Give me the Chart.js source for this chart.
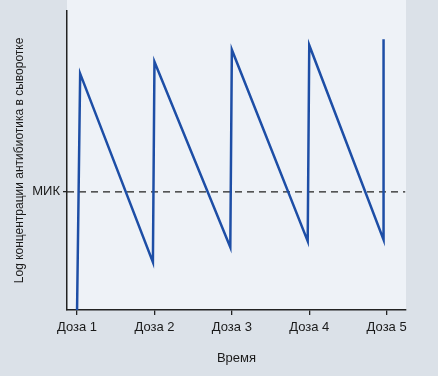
<!DOCTYPE html>
<html lang="ru">
<head>
<meta charset="UTF-8">
<title>Концентрация антибиотика</title>
<script src="https://cdn.jsdelivr.net/npm/chart.js"></script>
<style>
    html, body {
        margin: 0;
        padding: 0;
        background-color: #dbe1e8;
    }
    .wrap {
        width: 438px;
        height: 376px;
    }
</style>
</head>
<body>
<div class="wrap"><canvas id="doseChart" width="438" height="376"></canvas></div>
<script>
    // Данные (ось X — номер дозы, ось Y — условный log концентрации 0..100)
    const doseLabels = ['Доза 1', 'Доза 2', 'Доза 3', 'Доза 4', 'Доза 5'];
    const doseTimes = [1, 1.04, 1.98, 2.0, 2.98, 3.0, 3.98, 4.0, 4.96, 4.96];
    const logConc = [0, 79, 16, 83, 21, 87, 23, 88.5, 23.5, 90.5];
    const micLevel = 39.5;
    const micLabel = 'МИК';
    const xMin = 0.87, xMax = 5.25;

    const concPoints = doseTimes.map((t, i) => ({ x: t, y: logConc[i] }));

    const font = "'Liberation Sans Narrow', 'Arial Narrow', 'Liberation Sans', sans-serif";

    // фон области графика
    const plotBg = {
        id: 'plotBg',
        beforeDraw(chart) {
            const a = chart.chartArea;
            const c = chart.ctx;
            c.save();
            c.fillStyle = '#eef2f7';
            c.fillRect(a.left, 0, a.right - a.left, a.bottom);
            c.restore();
        }
    };

    new Chart(document.getElementById('doseChart'), {
        type: 'scatter',
        data: {
            datasets: [{
                label: 'Концентрация',
                data: concPoints,
                showLine: true,
                borderColor: '#1d4ea6',
                borderWidth: 2.5,
                pointRadius: 0,
                tension: 0
            }, {
                label: 'МИК',
                data: [{ x: xMin, y: micLevel }, { x: xMax - 0.01, y: micLevel }],
                showLine: true,
                borderColor: '#222',
                borderWidth: 1.3,
                borderDash: [7, 5],
                pointRadius: 0
            }]
        },
        options: {
            responsive: false,
            animation: false,
            layout: { padding: { top: 9, right: 32, left: 0, bottom: 0 } },
            plugins: {
                legend: { display: false },
                tooltip: { enabled: false }
            },
            scales: {
                x: {
                    type: 'linear',
                    min: xMin,
                    max: xMax,
                    afterBuildTicks: s => { s.ticks = doseLabels.map((_, i) => ({ value: i + 1 })); },
                    afterFit: s => { s.height = 66; },
                    ticks: {
                        color: '#1a1a1a',
                        font: { family: font, size: 13 },
                        padding: 5,
                        maxRotation: 0,
                        callback: v => doseLabels[v - 1]
                    },
                    grid: { drawOnChartArea: false, drawTicks: true, tickLength: 5, color: '#222', lineWidth: 1.3 },
                    border: { display: true, color: '#222', width: 1.5 },
                    title: {
                        display: true,
                        text: 'Время',
                        color: '#1a1a1a',
                        font: { family: font, size: 13 },
                        padding: { top: 0, bottom: 10 }
                    }
                },
                y: {
                    min: 0,
                    max: 100,
                    afterBuildTicks: s => { s.ticks = [{ value: micLevel }]; },
                    afterFit: s => { s.width = 67; },
                    ticks: {
                        color: '#1a1a1a',
                        font: { family: font, size: 13 },
                        padding: 3,
                        callback: () => micLabel
                    },
                    grid: { drawOnChartArea: false, drawTicks: true, tickLength: 4, color: '#222', lineWidth: 1.3 },
                    border: { display: true, color: '#222', width: 1.5 },
                    title: {
                        display: true,
                        text: 'Log концентрации антибиотика в сыворотке',
                        color: '#1a1a1a',
                        font: { family: font, size: 12 },
                        padding: { top: 12, bottom: 0 }
                    }
                }
            }
        },
        plugins: [plotBg]
    });
</script>
</body>
</html>
